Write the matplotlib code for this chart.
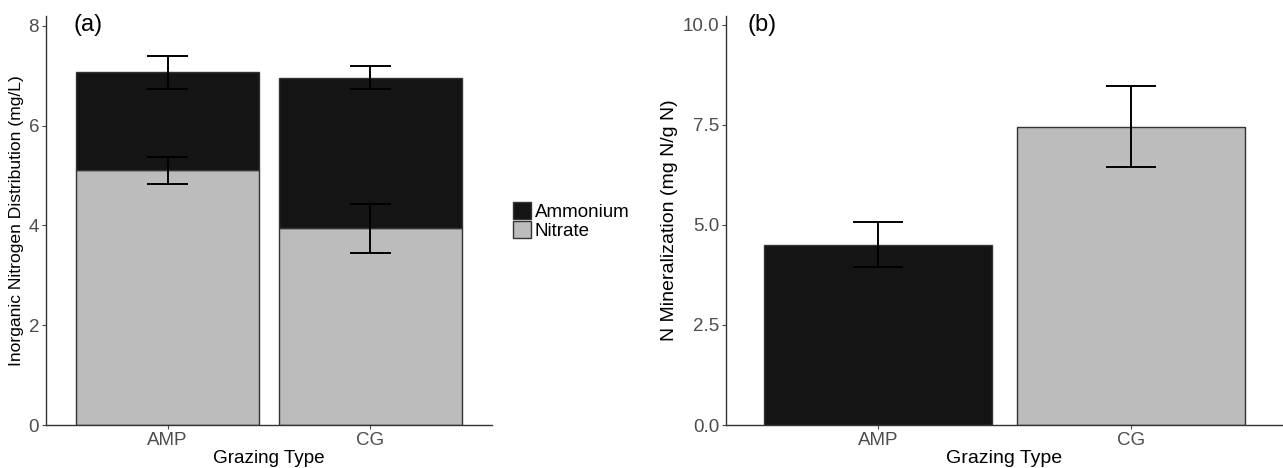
import matplotlib
matplotlib.use('Agg')
import matplotlib.pyplot as plt
from matplotlib.patches import Patch

# 字體設定
plt.rcParams['font.family'] = ['Liberation Sans', 'DejaVu Sans']

# 資料
grazing = ['AMP', 'CG']
nitrate = [5.11, 3.94]
ammonium = [1.96, 3.02]
nitrate_se = [0.27, 0.50]
ammonium_se = [0.33, 0.23]
mineral = [4.51, 7.45]
mineral_se = [0.57, 1.01]

black = '#141414'
grey = '#BCBCBC'
edge = '#333333'
tick_col = '#4D4D4D'

fig = plt.figure(figsize=(12.83, 4.68), dpi=100)
ax1 = fig.add_axes([46/1283, 43/468, 446/1283, 409/468])
ax2 = fig.add_axes([726/1283, 43/468, 557/1283, 409/468])

x = list(range(1, len(grazing) + 1))
totals = [n + a for n, a in zip(nitrate, ammonium)]


def errbars(ax, xs, ys, es):
    for xi, yi, ei in zip(xs, ys, es):
        ax.vlines(xi, yi - ei, yi + ei, color='black', lw=1.4, zorder=3)
        ax.hlines([yi - ei, yi + ei], xi - 0.1, xi + 0.1, color='black', lw=1.4, zorder=3)


# (a) 堆疊長條圖
ax1.bar(x, nitrate, width=0.9, color=grey, edgecolor=edge, lw=1.0, label='Nitrate')
ax1.bar(x, ammonium, width=0.9, bottom=nitrate, color=black, edgecolor=edge, lw=1.0, label='Ammonium')
errbars(ax1, x, totals, ammonium_se)
errbars(ax1, x, nitrate, nitrate_se)
ax1.set_ylim(0, 8.2)
ax1.set_yticks([0, 2, 4, 6, 8])
ax1.set_ylabel('Inorganic Nitrogen Distribution (mg/L)', fontsize=12.6, labelpad=3)
ax1.set_xlabel('Grazing Type', fontsize=13.6, labelpad=1)
ax1.text(0.062, 0.978, '(a)', transform=ax1.transAxes, fontsize=17, va='center')

# (b) N mineralization
ax2.bar(x, mineral, width=0.9, color=[black, grey], edgecolor=edge, lw=1.0)
errbars(ax2, x, mineral, mineral_se)
ax2.set_ylim(0, 10.22)
ax2.set_yticks([0, 2.5, 5, 7.5, 10])
ax2.set_yticklabels(['0.0', '2.5', '5.0', '7.5', '10.0'])
ax2.set_ylabel('N Mineralization (mg N/g N)', fontsize=14, labelpad=3)
ax2.set_xlabel('Grazing Type', fontsize=14, labelpad=1)
ax2.text(0.038, 0.978, '(b)', transform=ax2.transAxes, fontsize=17, va='center')

for ax in (ax1, ax2):
    ax.set_xlim(0.4, 2.6)
    ax.set_xticks(x)
    ax.set_xticklabels(grazing)
    for s in ('top', 'right'):
        ax.spines[s].set_visible(False)
    for s in ('left', 'bottom'):
        ax.spines[s].set_color(edge)
        ax.spines[s].set_linewidth(1.0)
    ax.tick_params(axis='both', colors=tick_col, labelsize=13.5, length=3, width=0.8, pad=2)

# 圖例
handles = [Patch(facecolor=black, edgecolor=edge, label='Ammonium'),
           Patch(facecolor=grey, edgecolor=edge, label='Nitrate')]
fig.legend(handles=handles, loc='center left', bbox_to_anchor=(505/1283, 1 - 221/468),
           frameon=False, fontsize=13.5, handlelength=1.0, handleheight=1.0,
           handletextpad=0.2, labelspacing=0.02, borderaxespad=0)

plt.savefig('out.png', dpi=100)
